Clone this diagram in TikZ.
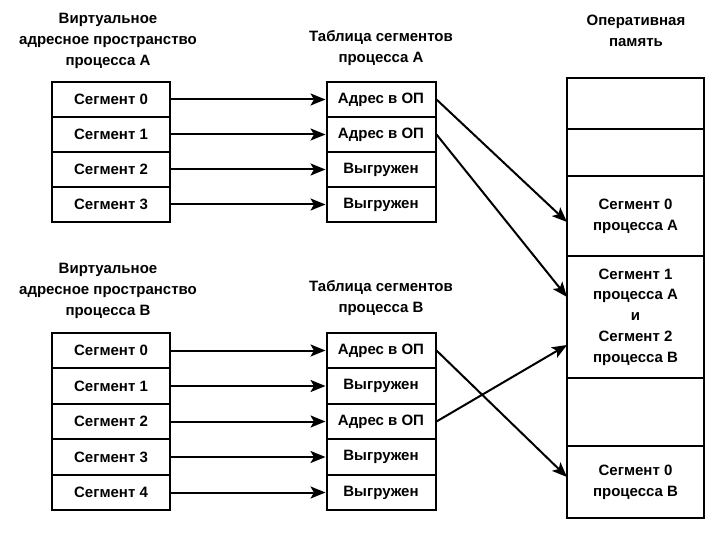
\documentclass[tikz,border=0pt]{standalone}
\usepackage{fontspec}
\setmainfont{Liberation Sans}
\usetikzlibrary{arrows.meta}
\begin{document}
\begin{tikzpicture}[x=1pt,y=-1pt,
  every node/.style={font=\bfseries\fontsize{15}{20.8}\selectfont, inner sep=0pt},
  cellL/.style={draw, line width=2pt, minimum width=118pt, minimum height=35.5pt},
  cellT/.style={draw, line width=2pt, minimum width=109pt, minimum height=35.5pt},
  memcell/.style={draw, line width=2pt, minimum width=137pt, align=center},
  hdr/.style={align=center},
  arr/.style={line width=2pt, -{Stealth[length=15pt,width=12pt,inset=3.5pt]}}
]
\useasboundingbox (0,0) rectangle (720,540);

% headers
\node[hdr] (hVA) at (108,41) {Виртуальное\\адресное пространство\\процесса А};
\node[hdr] (hTA) at (381,48) {Таблица сегментов\\процесса А};
\node[hdr] (hM) at (636,31) {Оперативная\\память};
\node[hdr] (hVB) at (108,291) {Виртуальное\\адресное пространство\\процесса В};
\node[hdr] (hTB) at (381,298) {Таблица сегментов\\процесса В};

% process A virtual space
\foreach \i in {0,...,3} {
  \node[cellL] (a\i) at (111,{99.5+35*\i}) {Сегмент \i};
}
% table A
\node[cellT] (ta0) at (381,99.5) {Адрес в ОП};
\node[cellT] (ta1) at (381,134.5) {Адрес в ОП};
\node[cellT] (ta2) at (381,169.5) {Выгружен};
\node[cellT] (ta3) at (381,204.5) {Выгружен};
\foreach \i in {0,...,3} { \draw[arr] (a\i) -- (ta\i); }

% process B virtual space
\foreach \i in {0,...,4} {
  \node[cellL] (b\i) at (111,{350.5+35.5*\i}) {Сегмент \i};
}
% table B
\node[cellT] (tb0) at (381,350.5) {Адрес в ОП};
\node[cellT] (tb1) at (381,386) {Выгружен};
\node[cellT] (tb2) at (381,421.5) {Адрес в ОП};
\node[cellT] (tb3) at (381,457) {Выгружен};
\node[cellT] (tb4) at (381,492.5) {Выгружен};
\foreach \i in {0,...,4} { \draw[arr] (b\i) -- (tb\i); }

% memory
\node[memcell, minimum height=51pt] (m0) at (635.5,103.5) {};
\node[memcell, minimum height=47pt] (m1) at (635.5,152.5) {};
\node[memcell, minimum height=80pt] (m2) at (635.5,216) {Сегмент 0\\процесса А};
\node[memcell, minimum height=122pt] (m3) at (635.5,317) {Сегмент 1\\процесса А\\и\\Сегмент 2\\процесса В};
\node[memcell, minimum height=68pt] (m4) at (635.5,412) {};
\node[memcell, minimum height=72pt] (m5) at (635.5,482) {Сегмент 0\\процесса В};

% targets on memory edge
\coordinate (pA0) at (567,222);
\coordinate (pA1) at (567,297);
\coordinate (pB2) at (567,345);
\coordinate (pB0) at (567,477);

\draw[arr] (ta0.east) -- (pA0);
\draw[arr] (ta1.east) -- (pA1);
\draw[arr] (tb0.east) -- (pB0);
\draw[arr] (tb2.east) -- (pB2);
\end{tikzpicture}
\end{document}
